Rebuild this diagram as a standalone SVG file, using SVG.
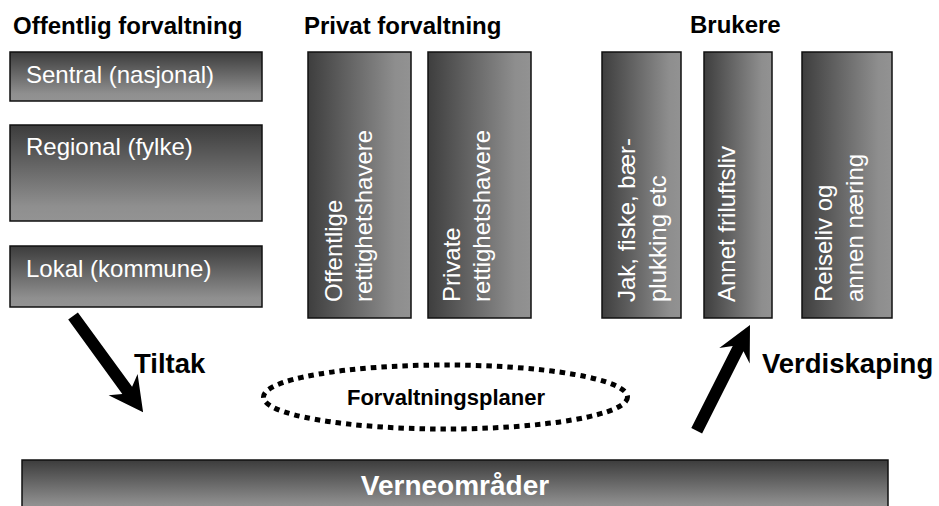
<svg xmlns="http://www.w3.org/2000/svg" width="939" height="506" viewBox="0 0 939 506">
  <defs>
    <linearGradient id="gv" x1="0" y1="0" x2="0" y2="1">
      <stop offset="0" stop-color="#3c3c3c"/>
      <stop offset="0.85" stop-color="#8f8f8f"/>
      <stop offset="1" stop-color="#939393"/>
    </linearGradient>
    <linearGradient id="gh" x1="0" y1="0" x2="1" y2="0">
      <stop offset="0" stop-color="#3e3e3e"/>
      <stop offset="0.85" stop-color="#8e8e8e"/>
      <stop offset="1" stop-color="#929292"/>
    </linearGradient>
  </defs>
  <style>
    .hb { fill: url(#gv); stroke: #111; stroke-width: 1.5; }
    .vb { fill: url(#gh); stroke: #111; stroke-width: 1.5; }
    .head { font-family: "Liberation Sans", Arial, sans-serif; font-weight: bold; font-size: 24px; fill: #000; }
    .bt { font-family: "Liberation Sans", Arial, sans-serif; font-size: 24px; fill: #fff; }
    .big { font-family: "Liberation Sans", Arial, sans-serif; font-weight: bold; font-size: 27.5px; fill: #000; }
    .arrow { fill: #000; }
  </style>
  <rect width="939" height="506" fill="#fff"/>

  <g id="headings">
    <text class="head" x="13" y="34">Offentlig forvaltning</text>
    <text class="head" x="304" y="34">Privat forvaltning</text>
    <text class="head" x="690" y="33">Brukere</text>
  </g>

  <g id="sentral">
    <rect class="hb" x="10" y="52" width="252" height="49"/>
    <text class="bt" x="26" y="83">Sentral (nasjonal)</text>
  </g>
  <g id="regional">
    <rect class="hb" x="10" y="125" width="252" height="96"/>
    <text class="bt" x="26" y="155">Regional (fylke)</text>
  </g>
  <g id="lokal">
    <rect class="hb" x="10" y="246" width="252" height="61"/>
    <text class="bt" x="26" y="277">Lokal (kommune)</text>
  </g>

  <g id="offentlige">
    <rect class="vb" x="308" y="52" width="103" height="266"/>
    <text class="bt" transform="translate(342,302) rotate(-90)"><tspan x="0" y="0">Offentlige</tspan><tspan x="0" y="30">rettighetshavere</tspan></text>
  </g>
  <g id="private">
    <rect class="vb" x="428" y="52" width="103" height="266"/>
    <text class="bt" transform="translate(460,302) rotate(-90)"><tspan x="0" y="0">Private</tspan><tspan x="0" y="30">rettighetshavere</tspan></text>
  </g>

  <g id="jakt">
    <rect class="vb" x="602" y="52" width="79" height="266"/>
    <text class="bt" transform="translate(635,302) rotate(-90)"><tspan x="0" y="0">Jak, fiske, bær-</tspan><tspan x="0" y="31">plukking etc</tspan></text>
  </g>
  <g id="friluftsliv">
    <rect class="vb" x="704" y="52" width="68" height="266"/>
    <text class="bt" transform="translate(735,302) rotate(-90)">Annet friluftsliv</text>
  </g>
  <g id="reiseliv">
    <rect class="vb" x="802" y="52" width="90" height="266"/>
    <text class="bt" transform="translate(832,302) rotate(-90)"><tspan x="0" y="0">Reiseliv og</tspan><tspan x="0" y="31">annen næring</tspan></text>
  </g>

  <g id="forvaltningsplaner">
    <ellipse cx="445.5" cy="397" rx="182" ry="32" fill="none" stroke="#000" stroke-width="5" stroke-dasharray="5.5 5"/>
    <text x="446" y="405" text-anchor="middle" style="font-family: 'Liberation Sans', Arial, sans-serif; font-weight: bold; font-size: 22px; fill: #000;">Forvaltningsplaner</text>
  </g>

  <g id="verneomrader">
    <rect class="hb" x="22" y="460" width="866" height="52"/>
    <text x="455" y="495" text-anchor="middle" style="font-family: 'Liberation Sans', Arial, sans-serif; font-weight: bold; font-size: 28px; fill: #fff;">Verneområder</text>
  </g>

  <g id="connectors">
    <polygon class="arrow" points="68.2,319.5 122.3,393.9 108.6,395.3 143.1,412.2 137.6,374.1 132.1,386.8 77.9,312.5"/>
    <polygon class="arrow" points="691.3,428.1 732.7,345.9 719.3,348.1 750,325 749.7,363.4 743.5,351.3 702.1,433.5"/>
    <text class="big" x="134" y="373">Tiltak</text>
    <text class="big" x="762" y="373">Verdiskaping</text>
  </g>
</svg>
